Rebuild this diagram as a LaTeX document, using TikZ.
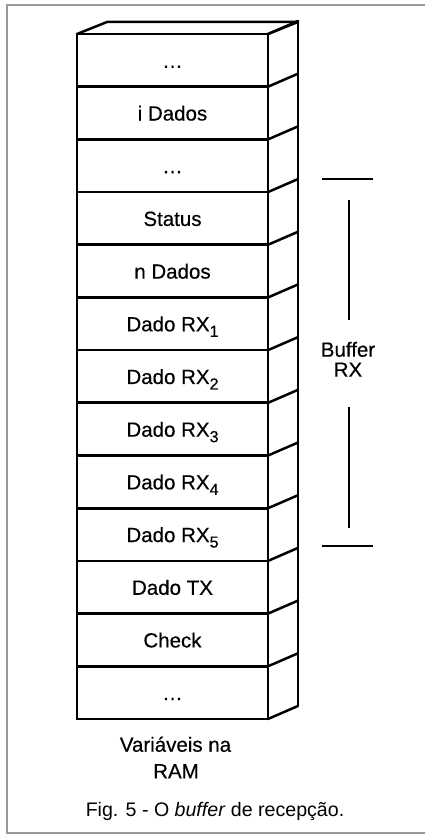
\documentclass[tikz,border=0pt]{standalone}
\usepackage{fontspec}
\setmainfont{Liberation Sans}
\newfontfamily\heavyfont{Liberation Sans}[FakeBold=0.4]
\newcommand\rxsub[1]{\raisebox{-5.5pt}{\fontsize{16}{16}\selectfont #1}}
\begin{document}
\begin{tikzpicture}[x=1pt,y=-1pt,
  cell/.style={draw=black, line width=2.7pt, minimum width=191pt, minimum height=52.69pt,
    inner sep=0pt, outer sep=0pt, text height=15pt, text depth=0pt,
    font=\heavyfont\fontsize{20.5}{24}\selectfont},
  side/.style={line width=2.5pt, line cap=round},
  brk/.style={line width=1.6pt},
  lbl/.style={inner sep=0pt, font=\heavyfont\fontsize{20.5}{24}\selectfont},
  capt/.style={inner sep=0pt, font=\fontsize{19.6}{24}\selectfont},
  frame/.style={draw=black!40, line width=1.5pt}]
\useasboundingbox (0,0) rectangle (425,837);
\draw[frame] (425,5) -- (7,5) -- (7,833) -- (425,833);
% memory cells
\foreach \i/\t [evaluate=\i as \yc using 34+52.69*(\i-0.5)] in
  {1/…, 2/i Dados, 3/…, 4/Status, 5/n Dados,
   6/Dado RX\rxsub{1}, 7/Dado RX\rxsub{2}, 8/Dado RX\rxsub{3},
   9/Dado RX\rxsub{4}, 10/Dado RX\rxsub{5}, 11/Dado TX, 12/Check, 13/…}
  \node[cell] (c\i) at (172.5,\yc) {\t};
% side face
\foreach \i in {1,...,13}
  \draw[side] (c\i.north east) -- ++(30,-13);
\draw[side] (c13.south east) -- ++(30,-13) coordinate (bbr);
\draw[side] (c1.north west) -- ++(30,-12) coordinate (btl) -- ++(191,0) coordinate (btr);
\draw[side] (c1.north east) -- (btr);
\draw[line width=2.7pt] (btr) -- (bbr);
% buffer RX bracket
\node[lbl, anchor=base] (buf) at (348,356.7) {Buffer};
\node[lbl, anchor=base] (rx) at (348,376.7) {RX};
\coordinate (t1) at (322,179); \coordinate (t2) at (373,179);
\coordinate (v1) at (349,200); \coordinate (v2) at (349,320);
\coordinate (v3) at (349,407); \coordinate (v4) at (349,528);
\coordinate (b1) at (322,546); \coordinate (b2) at (373,546);
\draw[brk] (t1) -- (t2);
\draw[brk] (v1) -- (v2);
\draw[brk] (v3) -- (v4);
\draw[brk] (b1) -- (b2);
% labels
\node[lbl, anchor=base] (var) at (175.5,751.7) {Variáveis na};
\node[lbl, anchor=base] (ram) at (176,778.3) {RAM};
\node[capt, anchor=base] (cap) at (215,816.7) {Fig. 5 - O \textit{buffer} de recepção.};
\end{tikzpicture}
\end{document}
